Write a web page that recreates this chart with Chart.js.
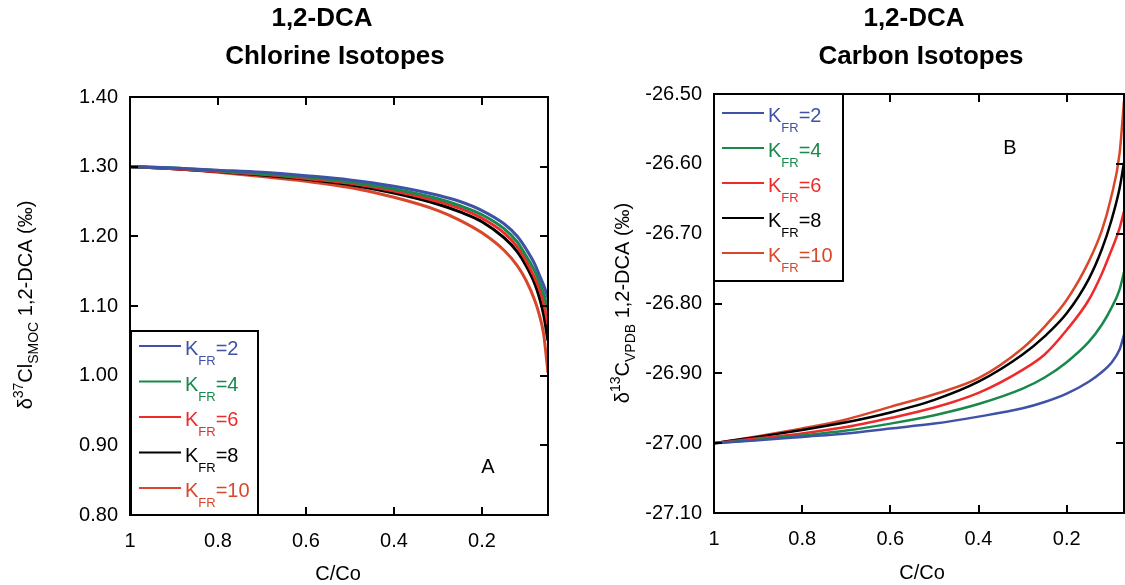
<!DOCTYPE html>
<html>
<head>
<meta charset="utf-8">
<script src="https://cdn.jsdelivr.net/npm/chart.js@4.4.0/dist/chart.umd.min.js"></script>
<style>
  body { margin: 0; background: #fff; width: 1125px; height: 585px; overflow: hidden; position: relative; }
  canvas { position: absolute; top: 0; }
  #clChart { left: 0; }
  #cChart { left: 562px; }
</style>
</head>
<body>
<canvas id="clChart" width="562" height="585"></canvas>
<canvas id="cChart" width="563" height="585"></canvas>
<script>
// --- data ---
const seriesNames = ['2', '4', '6', '8', '10'];
const seriesColors = ['#3f52a6', '#18894a', '#ee2a2a', '#000000', '#d9472b'];

// panel A: chlorine
const clX = [1, 0.9, 0.8, 0.7, 0.6, 0.5, 0.4, 0.3, 0.25, 0.2, 0.15, 0.12, 0.1, 0.08, 0.07, 0.06, 0.05];
const clK2  = [1.300, 1.298, 1.295, 1.292, 1.287, 1.281, 1.272, 1.259, 1.250, 1.237, 1.218, 1.200, 1.182, 1.160, 1.145, 1.130, 1.112];
const clK4  = [1.300, 1.298, 1.294, 1.290, 1.285, 1.278, 1.268, 1.254, 1.244, 1.231, 1.211, 1.192, 1.172, 1.150, 1.135, 1.118, 1.095];
const clK6  = [1.300, 1.297, 1.293, 1.289, 1.283, 1.276, 1.265, 1.250, 1.240, 1.226, 1.205, 1.185, 1.165, 1.140, 1.125, 1.105, 1.073];
const clK8  = [1.300, 1.297, 1.293, 1.288, 1.282, 1.274, 1.262, 1.246, 1.235, 1.221, 1.198, 1.178, 1.158, 1.132, 1.113, 1.088, 1.050];
const clK10 = [1.300, 1.297, 1.292, 1.286, 1.279, 1.270, 1.256, 1.237, 1.223, 1.205, 1.180, 1.158, 1.137, 1.108, 1.088, 1.060, 1.004];
const clYTicks = [0.8, 0.9, 1.0, 1.1, 1.2, 1.3, 1.4];

// panel B: carbon
const cX = [1, 0.9, 0.8, 0.7, 0.6, 0.5, 0.4, 0.3, 0.25, 0.2, 0.15, 0.12, 0.1, 0.08, 0.07];
const cK2  = [-27.000, -26.996, -26.991, -26.986, -26.979, -26.972, -26.962, -26.950, -26.941, -26.929, -26.912, -26.898, -26.886, -26.866, -26.845];
const cK4  = [-27.000, -26.995, -26.989, -26.982, -26.972, -26.960, -26.944, -26.922, -26.906, -26.884, -26.855, -26.830, -26.808, -26.780, -26.755];
const cK6  = [-27.000, -26.993, -26.986, -26.977, -26.964, -26.949, -26.928, -26.895, -26.873, -26.838, -26.795, -26.757, -26.726, -26.692, -26.668];
const cK8  = [-27.000, -26.991, -26.981, -26.970, -26.956, -26.938, -26.912, -26.873, -26.847, -26.814, -26.765, -26.722, -26.684, -26.635, -26.598];
const cK10 = [-27.000, -26.990, -26.979, -26.966, -26.948, -26.930, -26.907, -26.864, -26.833, -26.795, -26.740, -26.695, -26.650, -26.585, -26.510];
const cYTicks = [-27.1, -27.0, -26.9, -26.8, -26.7, -26.6, -26.5];

const xTicks = [1, 0.8, 0.6, 0.4, 0.2];
const xTickLabels = ['1', '0.8', '0.6', '0.4', '0.2'];

const FONT = '"Liberation Sans", Arial, sans-serif';

function toPts(xs, ys) { return xs.map((x, i) => ({ x, y: ys[i] })); }

function makeSets(xs, yss, lw) {
  return yss.map((ys, i) => ({
    label: 'K' + seriesNames[i],
    data: toPts(xs, ys),
    borderColor: seriesColors[i],
    borderWidth: lw,
    pointRadius: 0,
    cubicInterpolationMode: 'monotone',
    fill: false,
  }));
}

// draw a run of text pieces (normal / sup / sub), rotated when vertical
function drawRich(ctx, parts, x, y, vertical) {
  ctx.save();
  ctx.translate(x, y);
  if (vertical) ctx.rotate(-Math.PI / 2);
  ctx.textBaseline = 'alphabetic';
  ctx.textAlign = 'left';
  let total = 0;
  parts.forEach(p => { ctx.font = p.size + 'px ' + FONT; total += ctx.measureText(p.t).width; });
  let cx = -total / 2;
  parts.forEach(p => {
    ctx.font = p.size + 'px ' + FONT;
    ctx.fillStyle = p.color || '#000';
    ctx.fillText(p.t, cx, p.dy || 0);
    cx += ctx.measureText(p.t).width;
  });
  ctx.restore();
}

const decor = {
  id: 'decor',
  afterDatasetsDraw(chart, args, o) {
    const ctx = chart.ctx;
    const a = chart.chartArea;
    const xs = chart.scales.x, ys = chart.scales.y;
    ctx.save();
    // frame
    ctx.strokeStyle = '#000';
    ctx.lineWidth = 2;
    ctx.strokeRect(a.left, a.top, a.right - a.left, a.bottom - a.top);
    // inward ticks on all four sides
    ctx.beginPath();
    xs.ticks.forEach(t => {
      const px = Math.round(xs.getPixelForValue(t.value));
      if (px <= a.left + 1 || px >= a.right - 1) return;
      ctx.moveTo(px, a.bottom); ctx.lineTo(px, a.bottom - 8);
      ctx.moveTo(px, a.top); ctx.lineTo(px, a.top + 8);
    });
    ys.ticks.forEach(t => {
      const py = Math.round(ys.getPixelForValue(t.value));
      if (py <= a.top + 1 || py >= a.bottom - 1) return;
      ctx.moveTo(a.left, py); ctx.lineTo(a.left + 8, py);
      ctx.moveTo(a.right, py); ctx.lineTo(a.right - 8, py);
    });
    ctx.stroke();

    // legend box
    const lg = o.legend;
    ctx.fillStyle = '#fff';
    ctx.fillRect(lg.x, lg.y, lg.w, lg.h);
    ctx.lineWidth = 2;
    ctx.strokeStyle = '#000';
    ctx.strokeRect(lg.x, lg.y, lg.w, lg.h);
    seriesNames.forEach((n, i) => {
      const y = lg.y + lg.first + i * lg.step;
      ctx.strokeStyle = seriesColors[i];
      ctx.lineWidth = 2;
      ctx.beginPath();
      ctx.moveTo(lg.x + 8, y); ctx.lineTo(lg.x + 50, y);
      ctx.stroke();
      ctx.save();
      ctx.textAlign = 'left';
      ctx.textBaseline = 'alphabetic';
      ctx.fillStyle = seriesColors[i];
      let tx = lg.x + 54;
      ctx.font = '20px ' + FONT;
      ctx.fillText('K', tx, y + 9); tx += ctx.measureText('K').width;
      ctx.font = '13px ' + FONT;
      ctx.fillText('FR', tx, y + 19); tx += ctx.measureText('FR').width;
      ctx.font = '20px ' + FONT;
      ctx.fillText('=' + n, tx, y + 9);
      ctx.restore();
    });

    // titles
    ctx.fillStyle = '#000';
    ctx.textAlign = 'center';
    ctx.textBaseline = 'middle';
    ctx.font = 'bold 26px ' + FONT;
    ctx.fillText(o.title[0], o.titleX[0], 19);
    ctx.fillText(o.title[1], o.titleX[1], 57);

    // panel letter
    ctx.font = '20px ' + FONT;
    ctx.fillText(o.letter.t, o.letter.x, o.letter.y);

    // x axis title
    ctx.fillText('C/Co', o.xTitle.x, o.xTitle.y);
    ctx.restore();

    // y axis title with super/subscripts
    drawRich(ctx, o.yTitle.parts, o.yTitle.x, o.yTitle.y, true);
  }
};

function makeChart(id, xs, yss, xMin, yMin, yMax, yTicks, lw, pad, yWidth, xHeight, opts) {
  return new Chart(document.getElementById(id), {
    type: 'line',
    data: { datasets: makeSets(xs, yss, lw) },
    options: {
      responsive: false,
      animation: false,
      layout: { padding: pad },
      plugins: { legend: { display: false }, tooltip: { enabled: false }, decor: opts },
      scales: {
        x: {
          type: 'linear', reverse: true, min: xMin, max: 1,
          afterBuildTicks: s => { s.ticks = xTicks.map(v => ({ value: v })); },
          afterFit: s => { s.height = xHeight; },
          grid: { display: false, drawTicks: false },
          border: { display: false },
          ticks: {
            padding: 14, color: '#000', font: { family: FONT, size: 20 }, maxRotation: 0,
            callback: v => xTickLabels[xTicks.indexOf(v)] ?? ''
          },
        },
        y: {
          min: yMin, max: yMax,
          afterBuildTicks: s => { s.ticks = yTicks.map(v => ({ value: v })); },
          afterFit: s => { s.width = yWidth; },
          grid: { display: false, drawTicks: false },
          border: { display: false },
          ticks: { padding: 12, color: '#000', font: { family: FONT, size: 20 }, callback: v => v.toFixed(2) },
        },
      },
    },
    plugins: [decor],
  });
}

makeChart('clChart', clX, [clK2, clK4, clK6, clK8, clK10], 0.05, 0.8, 1.4, clYTicks, 3,
  { top: 97, right: 14, left: 0, bottom: 0 }, 130, 70, {
    title: ['1,2-DCA', 'Chlorine Isotopes'], titleX: [322, 335],
    letter: { t: 'A', x: 488, y: 467 },
    xTitle: { x: 338, y: 574 },
    legend: { x: 131, y: 331, w: 127, h: 184, first: 15, step: 35.5 },
    yTitle: { x: 32, y: 305, parts: [
      { t: '\u03B4', size: 20 }, { t: '37', size: 14, dy: -9 }, { t: 'Cl', size: 20 },
      { t: 'SMOC', size: 14, dy: 6 }, { t: ' 1,2-DCA (\u2030)', size: 20 }
    ] },
  });

makeChart('cChart', cX, [cK2, cK4, cK6, cK8, cK10], 0.07, -27.1, -26.5, cYTicks, 2.5,
  { top: 94, right: 1, left: 0, bottom: 0 }, 152, 72, {
    title: ['1,2-DCA', 'Carbon Isotopes'], titleX: [352, 359],
    letter: { t: 'B', x: 448, y: 148 },
    xTitle: { x: 360, y: 573 },
    legend: { x: 152, y: 94, w: 129, h: 187, first: 19, step: 35 },
    yTitle: { x: 67, y: 303, parts: [
      { t: '\u03B4', size: 20 }, { t: '13', size: 14, dy: -9 }, { t: 'C', size: 20 },
      { t: 'VPDB', size: 14, dy: 6 }, { t: ' 1,2-DCA (\u2030)', size: 20 }
    ] },
  });
</script>
</body>
</html>
